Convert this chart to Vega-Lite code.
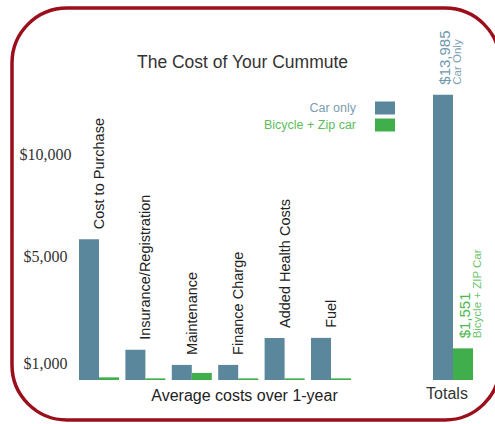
{
  "$schema": "https://vega.github.io/schema/vega-lite/v6.json",
  "width": 488,
  "height": 412,
  "autosize": {"type": "none"},
  "padding": {"left": 12, "top": 8, "right": 0, "bottom": 4},
  "title": {"text": "The Cost of Your Cummute", "fontSize": 17.5, "fontWeight": "normal", "color": "#333333", "font": "Liberation Sans", "anchor": "middle", "frame": "group", "offset": -63, "dx": -13.5},
  "config": {
    "font": "Liberation Sans",
    "view": {"stroke": "#9b0e1c", "strokeWidth": 3.5, "cornerRadius": 55},
    "axis": {"grid": false}
  },
  "datasets": {
    "items": [
      {"category": "Cost to Purchase", "series": "Car only", "value": 6900},
      {"category": "Cost to Purchase", "series": "Bicycle + Zip car", "value": 130},
      {"category": "Insurance/Registration", "series": "Car only", "value": 1480},
      {"category": "Insurance/Registration", "series": "Bicycle + Zip car", "value": 80},
      {"category": "Maintenance", "series": "Car only", "value": 740},
      {"category": "Maintenance", "series": "Bicycle + Zip car", "value": 345},
      {"category": "Finance Charge", "series": "Car only", "value": 740},
      {"category": "Finance Charge", "series": "Bicycle + Zip car", "value": 80},
      {"category": "Added Health Costs", "series": "Car only", "value": 2060},
      {"category": "Added Health Costs", "series": "Bicycle + Zip car", "value": 80},
      {"category": "Fuel", "series": "Car only", "value": 2065},
      {"category": "Fuel", "series": "Bicycle + Zip car", "value": 80}
    ],
    "totals": [
      {"group": "Totals", "series": "Car only", "value": 13985, "note": "Car Only"},
      {"group": "Totals", "series": "Bicycle + Zip car", "value": 1551, "note": "Bicycle + ZIP Car"}
    ]
  },
  "resolve": {"scale": {"x": "independent", "xOffset": "independent"}, "axis": {"x": "independent"}},
  "layer": [
    {
      "data": {"name": "items"},
      "encoding": {
        "x": {"field": "category", "type": "nominal", "sort": null,
          "scale": {"range": [63.8, 342.2], "paddingInner": 0.138, "paddingOuter": 0.069},
          "axis": {"orient": "bottom", "offset": -40, "labels": false, "ticks": false, "domain": false,
            "title": "Average costs over 1-year", "titleFontSize": 16, "titleFontWeight": "normal", "titleColor": "#222222",
            "titlePadding": 7, "titleX": 232, "titleAlign": "center", "titleFont": "Liberation Sans"}},
        "y": {"field": "value", "type": "quantitative",
          "scale": {"domain": [-1961, 18235], "nice": false, "zero": false},
          "axis": {"orient": "left", "offset": -33, "values": [1000, 5000, 10000], "format": "$,.0f",
            "labelFont": "Liberation Serif", "labelFontSize": 16, "labelColor": "#333333", "labelAlign": "center",
            "labelPadding": 0, "ticks": false, "domain": false, "title": null,
            "labelOffset": {"condition": {"test": "datum.value === 1000", "value": 4}, "value": -21}}}
      },
      "layer": [
        {
          "mark": {"type": "bar"},
          "encoding": {
            "xOffset": {"field": "series", "type": "nominal", "sort": null, "scale": {"domain": ["Car only", "Bicycle + Zip car"], "paddingInner": 0, "paddingOuter": 0}},
            "color": {"field": "series", "type": "nominal",
              "scale": {"domain": ["Car only", "Bicycle + Zip car"], "range": ["#5a879c", "#40ae4a"]},
              "legend": {"orient": "none", "legendX": 363, "legendY": 90, "title": null,
                "symbolType": "M-1,-0.65H1V0.65H-1Z", "symbolSize": 400, "symbolStrokeWidth": 0, "symbolOpacity": 1,
                "labelAlign": "right", "labelOffset": -39, "labelFontSize": 12.5, "labelFont": "Liberation Sans",
                "rowPadding": -2, "padding": 0, "labelLimit": 200,
                "encode": {"labels": {"update": {"fill": {"signal": "datum.value === 'Car only' ? '#7d9db0' : '#5cbd5c'"}}}}}}
          }
        },
        {
          "transform": [{"filter": "datum.series === 'Car only'"}],
          "mark": {"type": "text", "angle": 270, "align": "left", "baseline": "alphabetic", "dx": 10, "dy": 5, "fontSize": 14.5, "color": "#222222"},
          "encoding": {"text": {"field": "category"}}
        }
      ]
    },
    {
      "data": {"name": "totals"},
      "encoding": {
        "x": {"field": "group", "type": "nominal",
          "scale": {"range": [421, 461], "paddingInner": 0, "paddingOuter": 0},
          "axis": {"orient": "bottom", "offset": -40, "title": null, "ticks": false, "domain": false, "labelAngle": 0,
            "labelFontSize": 16, "labelColor": "#333333", "labelPadding": 5, "labelOffset": -6}},
        "xOffset": {"field": "series", "type": "nominal", "sort": null, "scale": {"domain": ["Car only", "Bicycle + Zip car"], "paddingInner": 0, "paddingOuter": 0}},
        "y": {"field": "value", "type": "quantitative",
          "scale": {"domain": [-1961, 18235], "nice": false, "zero": false},
          "axis": {"orient": "left", "offset": -33, "values": [1000, 5000, 10000], "format": "$,.0f",
            "labelFont": "Liberation Serif", "labelFontSize": 16, "labelColor": "#333333", "labelAlign": "center",
            "labelPadding": 0, "ticks": false, "domain": false, "title": null,
            "labelOffset": {"condition": {"test": "datum.value === 1000", "value": 4}, "value": -21}}}
      },
      "layer": [
        {
          "mark": {"type": "bar"},
          "encoding": {
            "color": {"field": "series", "type": "nominal", "scale": {"domain": ["Car only", "Bicycle + Zip car"], "range": ["#5a879c", "#40ae4a"]}}
          }
        },
        {
          "mark": {"type": "text", "angle": 270, "align": "left", "baseline": "alphabetic", "dx": 10, "dy": 7, "fontSize": 15},
          "encoding": {
            "text": {"field": "value", "type": "quantitative", "format": "$,.0f"},
            "color": {"condition": {"test": "datum.series === 'Car only'", "value": "#6f98ad"}, "value": "#4db84f"}
          }
        },
        {
          "mark": {"type": "text", "angle": 270, "align": "left", "baseline": "alphabetic", "dx": 10, "dy": 18, "fontSize": 11.5},
          "encoding": {
            "text": {"field": "note"},
            "color": {"condition": {"test": "datum.series === 'Car only'", "value": "#7fa2b5"}, "value": "#6cc46c"}
          }
        }
      ]
    }
  ]
}
